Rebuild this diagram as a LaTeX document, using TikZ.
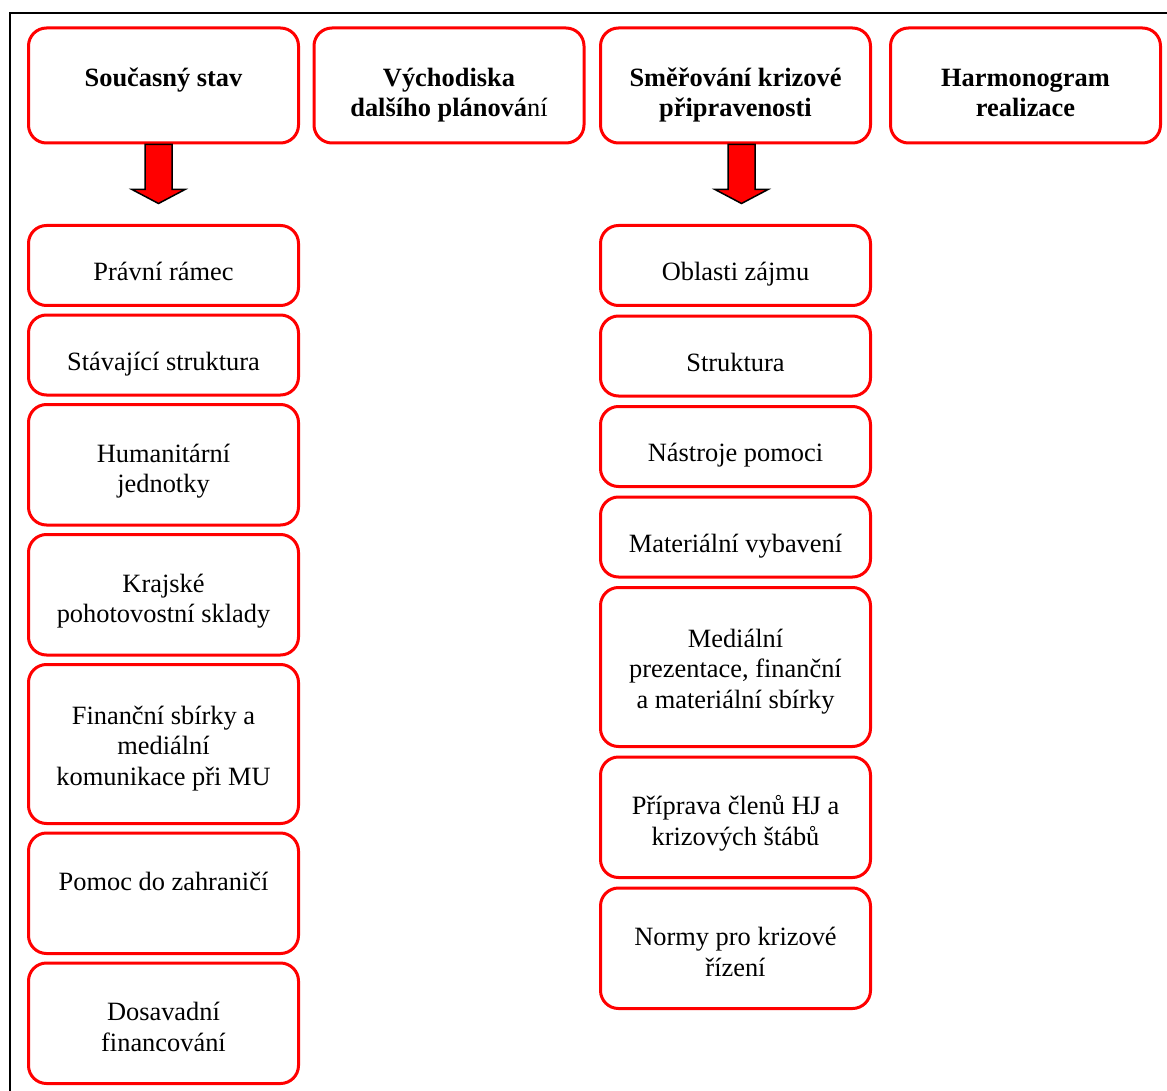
\documentclass[tikz,border=0pt]{standalone}
\usepackage{fontspec}
\setmainfont{Liberation Serif}
\usetikzlibrary{positioning,calc}

\begin{document}
\begin{tikzpicture}[x=0.5pt, y=-0.5pt, node distance=3.75pt,
    box/.style={rectangle, draw=red, line width=1.5pt, rounded corners=9pt, minimum width=135pt, align=center, text depth=0pt, font=\fontsize{13.2}{15.2}\selectfont},
    headbox/.style={box, minimum height=57.5pt, text height=31.3pt, font=\fontsize{13.2}{15.2}\selectfont\bfseries},
    shortbox/.style={box, minimum height=40pt, text height=15.1pt},
    midbox/.style={box, minimum height=60.25pt, text height=27.95pt},
    tallbox/.style={box, minimum height=79.5pt, text height=41.2pt},
    bigarrow/.style={draw=black, fill=red, line width=0.75pt, line join=miter}]
    \useasboundingbox (0,0) rectangle (1167,1091);

    % Frame
    \draw[line width=1pt] (10,1091) -- (10,13) -- (1167,13);

    % Define nodes
    \node [headbox] (state) at (163.5,85.5) {Současný stav\\~};
    \node [headbox] (basis) at (449,85.5) {Východiska\\dalšího plánová\textmd{ní}};
    \node [headbox] (direction) at (735.5,85.5) {Směřování krizové\\připravenosti};
    \node [headbox] (schedule) at (1025.5,85.5) {Harmonogram\\realizace};

    \node [shortbox, below=39.75pt of state] (legal) {Právní rámec};
    \node [shortbox, below=3.25pt of legal] (current) {Stávající struktura};
    \node [midbox, below=3.25pt of current] (units) {Humanitární\\jednotky};
    \node [midbox, below=3.25pt of units] (stores) {Krajské\\pohotovostní sklady};
    \node [tallbox, below=3.25pt of stores] (funds) {Finanční sbírky a\\mediální\\komunikace při MU};
    \node [midbox, below=3.25pt of funds] (abroad) {Pomoc do zahraničí\\~};
    \node [midbox, below=3.25pt of abroad] (financing) {Dosavadní\\financování};

    \node [shortbox, below=39.75pt of direction] (interest) {Oblasti zájmu};
    \node [shortbox, below=of interest] (struct) {Struktura};
    \node [shortbox, below=of struct] (tools) {Nástroje pomoci};
    \node [shortbox, below=of tools] (material) {Materiální vybavení};
    \node [tallbox, below=of material] (media) {Mediální\\prezentace, finanční\\a materiální sbírky};
    \node [midbox, below=of media] (training) {Příprava členů HJ a\\krizových štábů};
    \node [midbox, below=of training] (norms) {Normy pro krizové\\řízení};

    % Draw arrows
    \draw [bigarrow] ($(state.south)+(-5,0)$) ++(-13.5,0) -- ++(0,45) -- ++(-13,0) -- ++(26.5,14) -- ++(26.5,-14) -- ++(-13,0) -- ++(0,-45) -- cycle;
    \draw [bigarrow] ($(direction.south)+(6,0)$) ++(-13.5,0) -- ++(0,45) -- ++(-13,0) -- ++(26.5,14) -- ++(26.5,-14) -- ++(-13,0) -- ++(0,-45) -- cycle;
\end{tikzpicture}
\end{document}
